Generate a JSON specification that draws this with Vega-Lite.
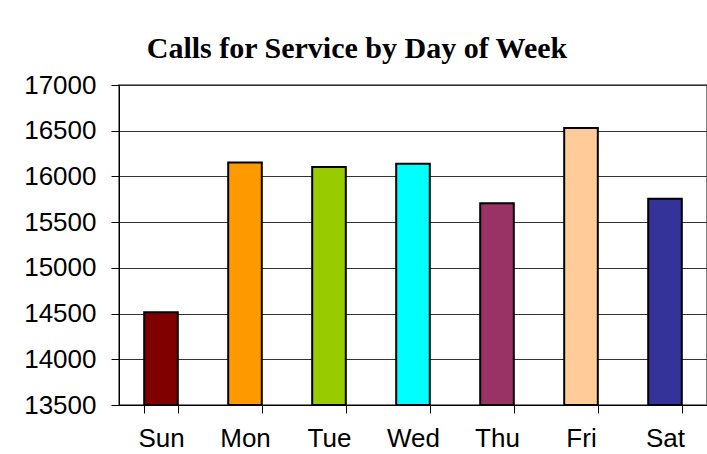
{
  "$schema": "https://vega.github.io/schema/vega-lite/v6.json",
  "autosize": {"type": "none"},
  "width": 588,
  "height": 320,
  "padding": {"left": 119, "top": 85, "right": 0, "bottom": 49},
  "background": "white",
  "title": {
    "text": "Calls for Service by Day of Week",
    "font": "Liberation Serif",
    "fontSize": 30,
    "fontWeight": "bold",
    "color": "black",
    "anchor": "middle",
    "frame": "group",
    "dx": -56,
    "baseline": "alphabetic",
    "offset": -16
  },
  "data": {
    "values": [
      {"day": "Sun", "calls": 14515, "color": "#800000"},
      {"day": "Mon", "calls": 16153, "color": "#FF9900"},
      {"day": "Tue", "calls": 16102, "color": "#99CC00"},
      {"day": "Wed", "calls": 16140, "color": "#00FFFF"},
      {"day": "Thu", "calls": 15708, "color": "#993366"},
      {"day": "Fri", "calls": 16530, "color": "#FFCC99"},
      {"day": "Sat", "calls": 15755, "color": "#333399"}
    ]
  },
  "mark": {"type": "bar", "stroke": "black", "strokeWidth": 2},
  "encoding": {
    "x": {
      "field": "day",
      "type": "nominal",
      "sort": null,
      "scale": {"paddingInner": 0.6, "paddingOuter": 0.3},
      "axis": {
        "title": null,
        "labelAngle": 0,
        "labelFont": "Liberation Sans",
        "labelFontSize": 26,
        "labelColor": "black",
        "labelPadding": 12,
        "tickBand": "extent",
        "tickSize": 8,
        "tickColor": "black",
        "domainColor": "black",
        "domainWidth": 1,
        "grid": false
      }
    },
    "y": {
      "field": "calls",
      "type": "quantitative",
      "scale": {"domain": [13500, 17000], "zero": false, "nice": false},
      "axis": {
        "title": null,
        "values": [13500, 14000, 14500, 15000, 15500, 16000, 16500, 17000],
        "format": "d",
        "labelFont": "Liberation Sans",
        "labelFontSize": 26,
        "labelColor": "black",
        "labelPadding": 15,
        "tickSize": 8,
        "tickColor": "black",
        "domainColor": "black",
        "domainWidth": 1,
        "grid": true,
        "gridColor": "#333333",
        "gridWidth": 1
      }
    },
    "y2": {"datum": 13500},
    "fill": {"field": "color", "type": "nominal", "scale": null, "legend": null}
  },
  "config": {
    "view": {"stroke": "#808080", "strokeWidth": 2}
  }
}
